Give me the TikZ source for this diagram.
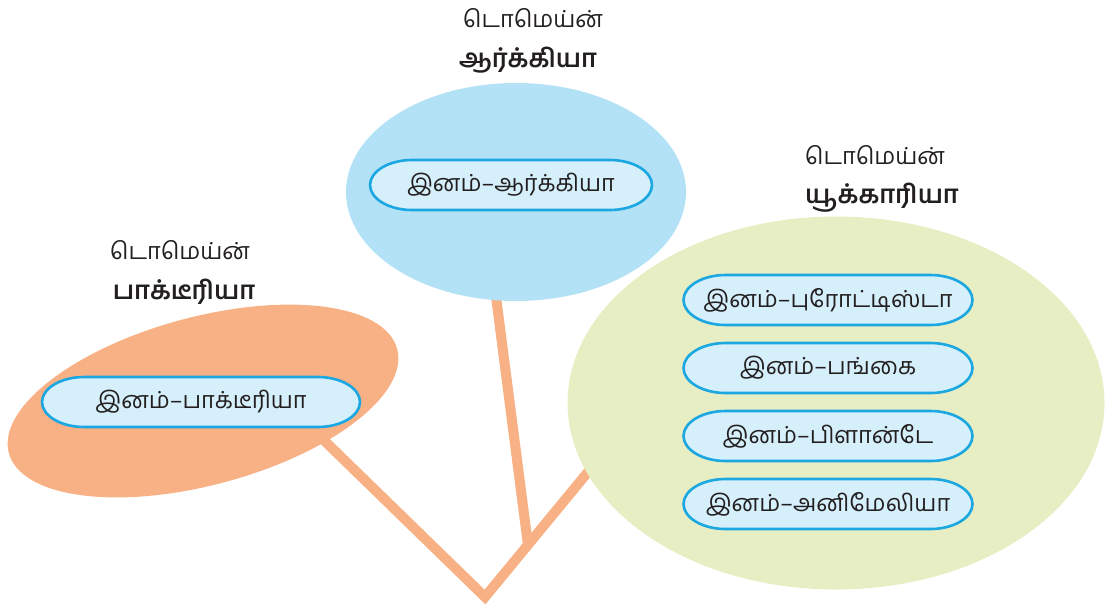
\documentclass[tikz,border=0pt]{standalone}
\usepackage{fontspec}
\newfontfamily\tam[Script=Tamil]{Hind Madurai}
\usetikzlibrary{shapes.geometric,backgrounds}
\definecolor{archfill}{HTML}{B3E2F7}
\definecolor{bactfill}{HTML}{F8B184}
\definecolor{eukfill}{HTML}{E8EEC4}
\definecolor{pillfill}{HTML}{D5EFFB}
\definecolor{pillline}{HTML}{1AA7E2}
\definecolor{branchcol}{HTML}{F8B184}
\definecolor{txt}{HTML}{231F20}
\pgfdeclarelayer{branches}
\pgfdeclarelayer{domains}
\pgfdeclarelayer{pillbg}
\pgfsetlayers{branches,domains,pillbg,main}
\begin{document}
\begin{tikzpicture}[x=1pt,y=-1pt,
  domainshape/.style={ellipse,draw=none,inner sep=0pt,outer sep=0pt},
  pill/.style={rectangle,draw=none,minimum height=50pt,inner sep=0pt,outer sep=0pt,
    text=txt,font=\tam\fontsize{23.5}{28}\selectfont},
  pilloutline/.style={draw=pillline,line width=2.6pt,fill=pillfill},
  domlabel/.style={text=txt,inner sep=0pt,font=\tam\fontsize{23.5}{28}\selectfont},
  domname/.style={text=txt,inner sep=0pt,font=\tam\bfseries\fontsize{25.5}{30}\selectfont},
  branch/.style={draw=branchcol,line width=10pt,line join=miter}]
\useasboundingbox (0,0) rectangle (1115,614);
% domain ellipses
\begin{pgfonlayer}{domains}
\node[domainshape,fill=archfill,minimum width=340pt,minimum height=218pt] (archE) at (516,192) {};
\node[domainshape,fill=bactfill,minimum width=402pt,minimum height=168pt,rotate=15] (bactE) at (203,401) {};
\node[domainshape,fill=eukfill,minimum width=537pt,minimum height=373pt] (eukE) at (836,403) {};
\end{pgfonlayer}
% branches
\coordinate (root) at (485,597);
\coordinate (junc) at (528,545);
\coordinate (bactend) at (300,417);
\coordinate (eukend) at (625,427);
\coordinate (archend) at (490,250);
\begin{pgfonlayer}{branches}
\draw[branch] (bactend) -- (root) -- (eukend);
\draw[branch] (junc) -- (archend);
\end{pgfonlayer}
% labels
\node[domlabel] (archL) at (533,18) {டொமெய்ன்};
\node[domname] (archN) at (528,60) {ஆர்க்கியா};
\node[domlabel] (bactL) at (180,250) {டொமெய்ன்};
\node[domname] (bactN) at (184,292) {பாக்டீரியா};
\node[domlabel] (eukL) at (875,155) {டொமெய்ன்};
\node[domname] (eukN) at (882,198) {யூக்காரியா};
% pills
\node[pill,minimum width=282pt] (archP) at (511,185) {இனம்–ஆர்க்கியா};
\node[pill,minimum width=318pt] (bactP) at (201,402) {இனம்–பாக்டீரியா};
\node[pill,minimum width=289pt] (eukP1) at (828,300) {இனம்–புரோட்டிஸ்டா};
\node[pill,minimum width=289pt] (eukP2) at (828,368) {இனம்–பங்கை};
\node[pill,minimum width=289pt] (eukP3) at (828,436) {இனம்–பிளான்டே};
\node[pill,minimum width=289pt] (eukP4) at (828,504) {இனம்–அனிமேலியா};
\begin{pgfonlayer}{pillbg}
\foreach \n in {archP,bactP,eukP1,eukP2,eukP3,eukP4}{
  \draw[pilloutline] (\n.west)
    .. controls ([yshift=13.8pt]\n.west) and ([xshift=19pt]\n.north west) .. ([xshift=42pt]\n.north west)
    -- ([xshift=-42pt]\n.north east)
    .. controls ([xshift=-19pt]\n.north east) and ([yshift=13.8pt]\n.east) .. (\n.east)
    .. controls ([yshift=-13.8pt]\n.east) and ([xshift=-19pt]\n.south east) .. ([xshift=-42pt]\n.south east)
    -- ([xshift=42pt]\n.south west)
    .. controls ([xshift=19pt]\n.south west) and ([yshift=-13.8pt]\n.west) .. cycle;
}
\end{pgfonlayer}
\end{tikzpicture}
\end{document}
